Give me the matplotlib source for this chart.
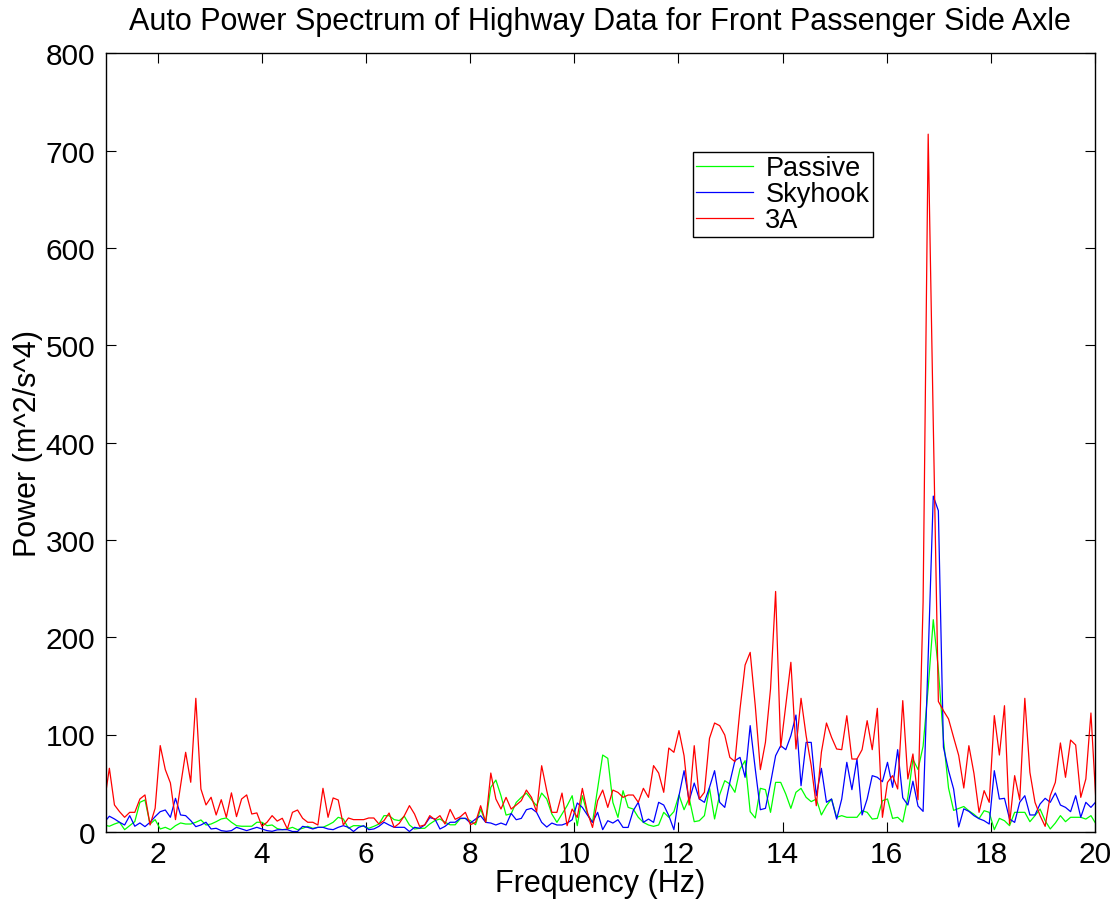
import numpy as np
import matplotlib
matplotlib.use("Agg")
import matplotlib.pyplot as plt

plt.rcParams['font.family'] = ['Liberation Sans', 'DejaVu Sans']

# FFT settings used to build the frequency axis (bin index * FS / NFFT)
FS = 100.0
NFFT = 1024
FIRST_BIN = 10

# Auto power spectra, one value per FFT bin starting at FIRST_BIN
passive = [
    7, 5.7, 8, 9.8, 2.2, 6.3, 10.5, 30.3, 32.7, 8,
    12.5, 2.9, 4.6, 2.2, 6.3, 9.1, 8, 8, 9.8, 12.2,
    7, 8, 10.4, 13.2, 14.2, 9.8, 6.3, 5.7, 5.7, 5.7,
    9.8, 9.8, 6.3, 7, 3.3, 2.2, 2.9, 4.6, 2.2, 3.6,
    5.6, 3.6, 4.6, 4.6, 7, 9.8, 14.9, 13.2, 3.6, 6.3,
    6.3, 5.6, 3.6, 5.6, 8, 16.6, 16.6, 12.5, 11.5, 15.9,
    7, 2.9, 3.6, 3.6, 8, 11.5, 13.2, 9.8, 7.2, 7.2,
    13.5, 13.8, 11.4, 7.3, 23.4, 9.7, 45.7, 53.2, 37.1, 17.2,
    18.6, 30.2, 35.4, 39.8, 33, 26.8, 39.8, 33.7, 18.3, 9.7,
    18.3, 26.8, 37.1, 6.3, 37.1, 18.3, 9.7, 44, 78.9, 75.5,
    30.2, 14.8, 42.2, 25.1, 23.4, 14.9, 9.7, 7, 5.6, 7,
    20, 14.9, 20.7, 37.8, 22.7, 34.7, 10.4, 11.4, 16.6, 45,
    13.2, 38.2, 52.5, 49.1, 40.6, 64.5, 73.1, 20.7, 14.2, 44.7,
    43.3, 20, 50.8, 50.8, 38.8, 24.1, 40.6, 44.7, 35.4, 31,
    33.7, 17.3, 26.8, 33.7, 14.9, 16.6, 14.9, 14.9, 14.9, 21.7,
    20, 13.1, 13.8, 32, 33.7, 13.8, 14.9, 10, 35.5, 74.5,
    64, 88, 148, 218, 167, 95, 45, 22, 24, 26,
    21.6, 18, 13.5, 21.7, 20, 2.2, 13.8, 11.4, 6.3, 20,
    20, 20, 10.4, 16.6, 23.4, 11.4, 2.9, 9, 16.6, 10.4,
    14.9, 14.9, 14.9, 13.1, 16.6, 8,
]

skyhook = [
    9.8, 16, 13.2, 9.8, 7, 16.6, 5.7, 9.1, 5.3, 9.8,
    15.6, 20.7, 22.4, 14.9, 34.4, 17.3, 16.6, 11.5, 5.3, 7,
    9.8, 2.9, 3.6, 1.2, 0.5, 1.2, 4.6, 2.9, 1.2, 2.9,
    4.6, 2.9, 1.2, 0.5, 2, 2.2, 2.2, 0.3, 0.3, 5.6,
    4.6, 2.9, 4.6, 4.6, 2.9, 2.2, 4.6, 6.3, 4.6, 0.3,
    4.6, 6.3, 2.2, 2.9, 5.6, 9.8, 7, 4.6, 4.6, 4.6,
    0.3, 4.6, 3.6, 7, 14.6, 13.2, 2.9, 5.6, 9.8, 9.8,
    14, 13.8, 9, 13.1, 16.5, 9.7, 9, 7, 9, 7,
    18.9, 12.4, 13.8, 22.7, 24.1, 20, 9.7, 4.9, 9, 7,
    7, 9, 12.4, 29.6, 25.1, 17.2, 9.7, 20, 2.2, 11.4,
    9, 12.4, 4.5, 4.5, 21.7, 30.3, 9.7, 13.1, 9.7, 30.3,
    27.5, 16.6, 2.2, 37.1, 62.8, 32, 50.1, 33.7, 30.3, 45.7,
    62.8, 30.3, 25.1, 50.8, 73.1, 76.5, 56, 109.1, 64.5, 22.7,
    24.1, 50, 78.2, 88.5, 84.4, 98.8, 120, 47.4, 91.9, 91.9,
    37.1, 65.2, 30.3, 33.7, 13.1, 33.7, 71.4, 43.3, 74.8, 17.3,
    33.7, 57.7, 56, 51.5, 71.4, 45.7, 84.4, 35, 27.5, 52,
    26.5, 21, 180, 345, 330, 87, 63, 44, 5, 23.6,
    21, 16.6, 13.5, 11.4, 8, 62.8, 33.7, 34.4, 13.1, 9.7,
    30.3, 37.1, 17.3, 17.3, 28.6, 34.4, 30.3, 39.9, 27.5, 25.1,
    20.7, 37.1, 14.9, 30.3, 25.1, 31,
]

three_a = [
    30, 65.3, 27.6, 20.7, 14.9, 20, 20, 33.7, 37.9, 7,
    24.2, 88.6, 63.9, 50.2, 12.5, 47.5, 81.7, 50.9, 137.2, 44,
    27.6, 35.5, 17.3, 33, 14.9, 40, 15.6, 33.7, 37.9, 18.3,
    19.4, 5.7, 9.8, 16.6, 11, 13.9, 2.9, 20, 22.4, 13.9,
    9.8, 9.8, 7, 44.7, 14.9, 34.8, 32.7, 7, 14.2, 12.5,
    12.5, 12.5, 14.2, 14.2, 8, 11.5, 19.3, 4.6, 8.7, 16.6,
    26.9, 18.3, 5.6, 7, 16.6, 12.5, 16.6, 8, 23, 12.8,
    15.4, 20, 7.3, 9.7, 26.8, 9.7, 60.4, 33.7, 23.4, 35.4,
    23.4, 27.5, 32, 42.9, 35.4, 20.6, 67.9, 42.2, 20, 20,
    39.8, 6.3, 23.4, 14.8, 44.6, 20, 4.5, 32, 42.9, 25.1,
    42.9, 40.5, 35.4, 37.8, 37.8, 30.3, 44.7, 35.4, 68, 60.4,
    40.6, 86.1, 81.7, 104, 78.2, 27.5, 88.5, 33.7, 40.6, 96.1,
    111.8, 109.1, 99.5, 76.5, 72.1, 126.2, 171.4, 184.4, 129.6, 63.9,
    92, 146.8, 247, 86.8, 130, 174.2, 85.1, 137.2, 98.8, 68,
    26.8, 81.7, 111.8, 97.1, 85.1, 84.4, 119.3, 74.8, 74.8, 84.4,
    114.2, 84.4, 126.9, 14.9, 50.8, 57.7, 44, 134.8, 54.3, 80,
    33, 236, 717, 420, 134, 124.5, 116, 97, 78.5, 45,
    88.5, 60, 20, 42.3, 30.3, 119.4, 78.9, 129.6, 8, 57.7,
    32.7, 137.2, 61.1, 30.3, 16.6, 5.6, 37.1, 50.8, 91.3, 56,
    94.3, 89.2, 35.4, 54.3, 122.1, 30,
]

series_labels = ['Passive', 'Skyhook', '3A']
series_colors = [(0, 1, 0), (0, 0, 1), (1, 0, 0)]
x_ticks = list(range(2, 21, 2))
y_ticks = list(range(0, 801, 100))

freq = (FIRST_BIN + np.arange(len(passive))) * FS / NFFT

W, H = 1117, 904
fig = plt.figure(figsize=(W / 100, H / 100), dpi=100)
ax = fig.add_axes([105.5 / W, 71.2 / H, 989.5 / W, 778.4 / H])

for values, label, color in zip([passive, skyhook, three_a], series_labels, series_colors):
    ax.plot(freq, values, color=color, lw=0.9, label=label)

ax.set_xlim(1, 20)
ax.set_ylim(0, 800)
ax.set_xticks(x_ticks)
ax.set_yticks(y_ticks)
ax.tick_params(direction='in', length=7, width=0.8, top=True, right=True,
               labelsize=21.5, colors='black')
ax.tick_params(axis='x', pad=6)
ax.tick_params(axis='y', pad=7.5)
for spine in ax.spines.values():
    spine.set_linewidth(1.0)

ax.set_title('Auto Power Spectrum of Highway Data for Front Passenger Side Axle',
             fontsize=22, pad=17.5)
ax.set_xlabel('Frequency (Hz)', fontsize=22, labelpad=0)
ax.set_ylabel('Power (m^2/s^4)', fontsize=22, labelpad=1.5)

leg = ax.legend(loc='upper left', bbox_to_anchor=(0.5937, 0.8733), borderaxespad=0,
                fontsize=19.5, frameon=True, fancybox=False, framealpha=1,
                edgecolor='black', handlelength=2.1, handletextpad=0.45,
                borderpad=0.12, labelspacing=0.0)
leg.get_frame().set_linewidth(1.0)

fig.savefig('out.png', dpi=100, facecolor='white')
